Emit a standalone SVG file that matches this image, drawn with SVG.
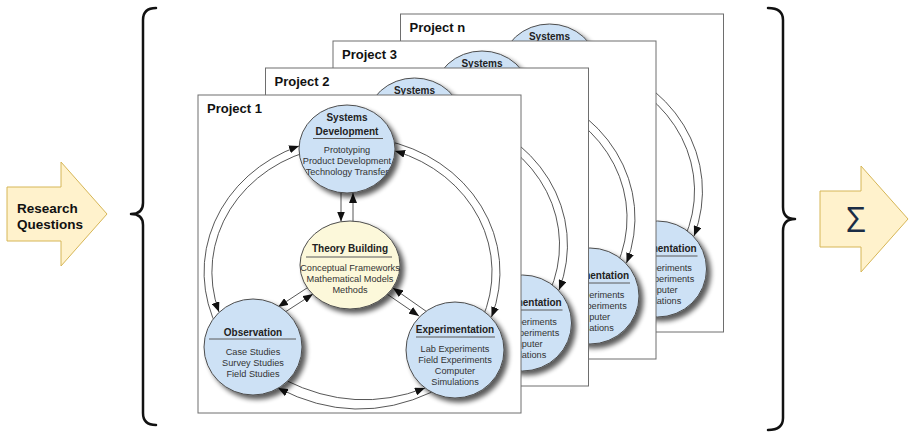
<svg xmlns="http://www.w3.org/2000/svg" width="915" height="437" viewBox="0 0 915 437">
<defs>
<style>
.panel{fill:#fff;stroke:#6e6e6e;stroke-width:1}
.ptitle{font-family:"Liberation Sans",Arial,sans-serif;font-weight:bold;font-size:13px;fill:#111}
.blue{fill:#cde1f5;stroke:#4d4d4d;stroke-width:1}
.yellow{fill:#fcf8da;stroke:#4d4d4d;stroke-width:1}
.nt{font-family:"Liberation Sans",Arial,sans-serif;font-weight:bold;font-size:10px;fill:#222;text-anchor:middle}
.nb{font-family:"Liberation Sans",Arial,sans-serif;font-size:9.2px;fill:#333;text-anchor:middle}
.div{stroke:#5a5a5a;stroke-width:1}
.conn{fill:none;stroke:#444;stroke-width:0.9}
.brace{fill:none;stroke:#111;stroke-width:2.5;stroke-linecap:round;stroke-linejoin:round}
.bigarrow{fill:#fff2cc;stroke:#d6b656;stroke-width:1}
.btxt{font-family:"Liberation Sans",Arial,sans-serif;font-weight:bold;font-size:13.5px;fill:#111}
</style>
<marker id="ah" viewBox="0 0 10 8" markerUnits="userSpaceOnUse" markerWidth="10" markerHeight="8" refX="10" refY="4" orient="auto">
<path d="M0,0 L10,4 L0,8 z" fill="#111"/>
</marker>
<filter id="sh" x="-30%" y="-30%" width="170%" height="170%">
<feGaussianBlur in="SourceAlpha" stdDeviation="2.5"/>
<feOffset dx="3.5" dy="3.5" result="o"/>
<feComponentTransfer><feFuncA type="linear" slope="0.65"/></feComponentTransfer>
<feMerge><feMergeNode/><feMergeNode in="SourceGraphic"/></feMerge>
</filter>
</defs>

<!-- Research Questions arrow -->
<g id="research-questions">
<polygon class="bigarrow" points="7,187 61,187 61,162 107,214 61,266 61,241 7,241"/>
<text class="btxt" x="17" y="213">Research</text>
<text class="btxt" x="17" y="229">Questions</text>
</g>

<!-- Braces -->
<g id="braces">
<path class="brace" d="M156,8 Q143,8 143,20 L143,203 Q143,214 131,214 Q143,214 143,225 L143,413 Q143,425 156,425"/>
<path class="brace" d="M768,8 Q783,8 783,20 L783,207 Q783,219 795,219 Q783,219 783,231 L783,418 Q783,430 768,430"/>
</g>

<!-- Sigma arrow -->
<g id="sum">
<polygon class="bigarrow" points="820,191 861,191 861,166 908,219 861,272 861,247 820,247"/>
<text x="856" y="232" font-family="'Open Sans','DejaVu Sans',sans-serif" font-size="34" fill="#1b2d45" text-anchor="middle">Σ</text>
</g>

<!-- Project n -->
<g id="project-n" transform="translate(202.5,-81)">
<rect class="panel" x="198" y="95" width="323" height="318"/>
<text class="ptitle" x="207" y="113">Project n</text>
<g class="connectors">
<path class="conn" d="M383,140 A148 135 0 0 1 491.5,317" marker-end="url(#ah)"/>
<path class="conn" d="M481.6,320 A140 127 0 0 0 395,151" marker-end="url(#ah)"/>
</g>
<g>
<ellipse class="blue" filter="url(#sh)" cx="347" cy="149" rx="48" ry="44"/>
<text class="nt" x="347" y="121">Systems</text>
</g>
<g>
<ellipse class="blue" filter="url(#sh)" cx="455" cy="350" rx="49" ry="48"/>
<text class="nt" x="455" y="333">Experimentation</text>
<line class="div" x1="416" y1="337" x2="495" y2="337"/>
<text class="nb" x="455" y="352">Lab Experiments</text>
<text class="nb" x="455" y="363">Field Experiments</text>
<text class="nb" x="455" y="374">Computer</text>
<text class="nb" x="455" y="385">Simulations</text>
</g>
</g>

<!-- Project 3 -->
<g id="project-3" transform="translate(135,-54)">
<rect class="panel" x="198" y="95" width="323" height="318"/>
<text class="ptitle" x="207" y="113">Project 3</text>
<g class="connectors">
<path class="conn" d="M383,140 A148 135 0 0 1 491.5,317" marker-end="url(#ah)"/>
<path class="conn" d="M481.6,320 A140 127 0 0 0 395,151" marker-end="url(#ah)"/>
</g>
<g>
<ellipse class="blue" filter="url(#sh)" cx="347" cy="149" rx="48" ry="44"/>
<text class="nt" x="347" y="121">Systems</text>
</g>
<g>
<ellipse class="blue" filter="url(#sh)" cx="455" cy="350" rx="49" ry="48"/>
<text class="nt" x="455" y="333">Experimentation</text>
<line class="div" x1="416" y1="337" x2="495" y2="337"/>
<text class="nb" x="455" y="352">Lab Experiments</text>
<text class="nb" x="455" y="363">Field Experiments</text>
<text class="nb" x="455" y="374">Computer</text>
<text class="nb" x="455" y="385">Simulations</text>
</g>
</g>

<!-- Project 2 -->
<g id="project-2" transform="translate(67.5,-27)">
<rect class="panel" x="198" y="95" width="323" height="318"/>
<text class="ptitle" x="207" y="113">Project 2</text>
<g class="connectors">
<path class="conn" d="M383,140 A148 135 0 0 1 491.5,317" marker-end="url(#ah)"/>
<path class="conn" d="M481.6,320 A140 127 0 0 0 395,151" marker-end="url(#ah)"/>
</g>
<g>
<ellipse class="blue" filter="url(#sh)" cx="347" cy="149" rx="48" ry="44"/>
<text class="nt" x="347" y="121">Systems</text>
</g>
<g>
<ellipse class="blue" filter="url(#sh)" cx="455" cy="350" rx="49" ry="48"/>
<text class="nt" x="455" y="333">Experimentation</text>
<line class="div" x1="416" y1="337" x2="495" y2="337"/>
<text class="nb" x="455" y="352">Lab Experiments</text>
<text class="nb" x="455" y="363">Field Experiments</text>
<text class="nb" x="455" y="374">Computer</text>
<text class="nb" x="455" y="385">Simulations</text>
</g>
</g>

<!-- Project 1 -->
<g id="project-1">
<rect class="panel" x="198" y="95" width="323" height="318"/>
<text class="ptitle" x="207" y="113">Project 1</text>
</g>

<g id="connectors">
<!-- SD <-> TB -->
<line class="conn" x1="341" y1="192" x2="341" y2="221.5" marker-end="url(#ah)"/>
<line class="conn" x1="353" y1="222" x2="353" y2="193" marker-end="url(#ah)"/>
<!-- TB <-> OB -->
<line class="conn" x1="310" y1="286" x2="278" y2="307" marker-end="url(#ah)"/>
<line class="conn" x1="279" y1="316" x2="313" y2="294" marker-end="url(#ah)"/>
<!-- TB <-> EX -->
<line class="conn" x1="430" y1="314" x2="393" y2="288" marker-end="url(#ah)"/>
<line class="conn" x1="384" y1="292" x2="419" y2="316" marker-end="url(#ah)"/>
<!-- SD <-> OB arcs -->
<path class="conn" d="M218.4,330 A148 135 0 0 1 299,146" marker-end="url(#ah)"/>
<path class="conn" d="M321.7,148 A140 127 0 0 0 219,312" marker-end="url(#ah)"/>
<!-- SD <-> EX arcs -->
<path class="conn" d="M383,140 A148 135 0 0 1 491.5,317" marker-end="url(#ah)"/>
<path class="conn" d="M481.6,320 A140 127 0 0 0 395,151" marker-end="url(#ah)"/>
<!-- OB <-> EX arcs -->
<path class="conn" d="M285,380 Q355,415 425,388" marker-end="url(#ah)"/>
<path class="conn" d="M432,392 Q355,428 278,388" marker-end="url(#ah)"/>
</g>

<g id="node-systems-development">
<ellipse class="blue" filter="url(#sh)" cx="347" cy="149" rx="48" ry="44"/>
<text class="nt" x="347" y="121">Systems</text>
<text class="nt" x="347" y="134.5">Development</text>
<line class="div" x1="313" y1="138.5" x2="383" y2="138.5"/>
<text class="nb" x="347" y="152.5">Prototyping</text>
<text class="nb" x="347" y="163.5">Product Development</text>
<text class="nb" x="347" y="174.5">Technology Transfer</text>
</g>

<g id="node-theory-building">
<ellipse class="yellow" filter="url(#sh)" cx="350" cy="265" rx="50" ry="44"/>
<text class="nt" x="350" y="252">Theory Building</text>
<line class="div" x1="306" y1="257" x2="392" y2="257"/>
<text class="nb" x="350" y="271">Conceptual Frameworks</text>
<text class="nb" x="350" y="282">Mathematical Models</text>
<text class="nb" x="350" y="293">Methods</text>
</g>

<g id="node-observation">
<ellipse class="blue" filter="url(#sh)" cx="253" cy="347" rx="49" ry="48"/>
<text class="nt" x="253" y="335.5">Observation</text>
<line class="div" x1="209" y1="339" x2="296" y2="339"/>
<text class="nb" x="253" y="354.5">Case Studies</text>
<text class="nb" x="253" y="365.5">Survey Studies</text>
<text class="nb" x="253" y="376.5">Field Studies</text>
</g>

<g id="node-experimentation">
<ellipse class="blue" filter="url(#sh)" cx="455" cy="350" rx="49" ry="48"/>
<text class="nt" x="455" y="333">Experimentation</text>
<line class="div" x1="416" y1="337" x2="495" y2="337"/>
<text class="nb" x="455" y="352">Lab Experiments</text>
<text class="nb" x="455" y="363">Field Experiments</text>
<text class="nb" x="455" y="374">Computer</text>
<text class="nb" x="455" y="385">Simulations</text>
</g>
</svg>
